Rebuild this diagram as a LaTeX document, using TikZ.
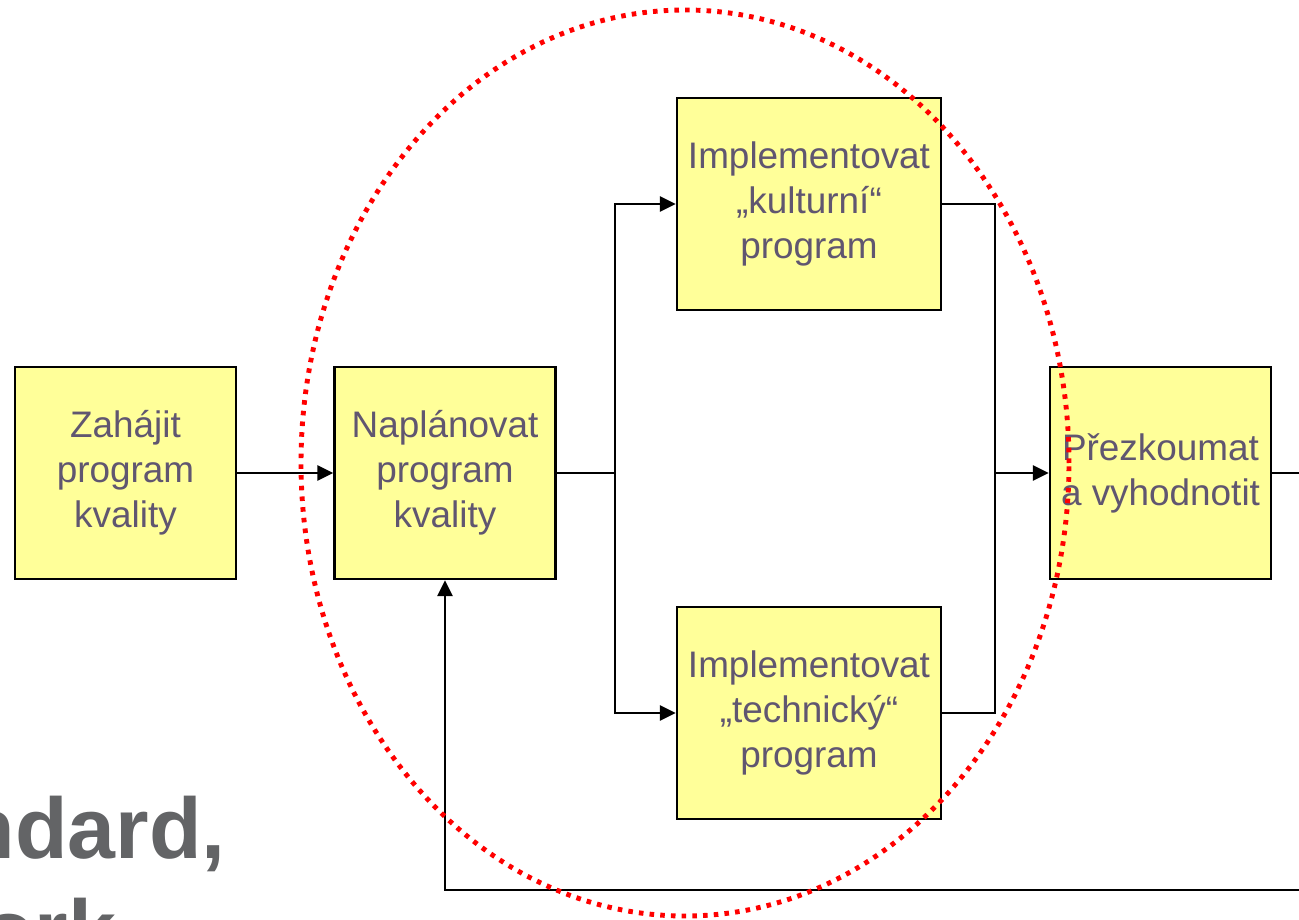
\documentclass[tikz,border=0pt]{standalone}
\usepackage{fontspec}
\setmainfont{Liberation Sans}
\usetikzlibrary{arrows.meta}
\definecolor{boxfill}{RGB}{255,255,153}
\definecolor{boxtext}{RGB}{96,86,112}
\definecolor{headgray}{RGB}{99,100,102}
\begin{document}
\begin{tikzpicture}[
    box/.style={draw, line width=1.5pt, fill=boxfill, text=boxtext, align=center,
        minimum width=4.42cm, minimum height=4.24cm, inner sep=0pt,
        font=\fontsize{21}{25.6}\selectfont},
    wide/.style={minimum width=5.28cm},
    >={Triangle[length=9pt,width=8.5pt]},
    line width=1.5pt
]
\useasboundingbox (0,0) rectangle (25.98,18.38);
\clip (0,0) rectangle (25.98,18.38);

\node[box] (zah) at (2.51,8.92) {Zahájit\\program\\kvality};
\node[box] (nap) at (8.9,8.92) {Naplánovat\\program\\kvality};
\node[box, wide] (kul) at (16.18,14.3) {Implementovat\\„kulturní“\\program};
\node[box, wide] (tech) at (16.18,4.12) {Implementovat\\„technický“\\program};
\node[box] (prez) at (23.21,8.92) {Přezkoumat\\a vyhodnotit};

\coordinate (split) at (12.3,8.92);
\coordinate (join) at (19.9,8.92);
\coordinate (out) at (26.3,0.58);

\draw[->] (zah) -- (nap);
\draw (nap.east) -- (split);
\draw[->] (split) |- (kul.west);
\draw[->] (split) |- (tech.west);
\draw (kul.east) -| (join);
\draw (tech.east) -| (join);
\draw[->] (join) -- (prez.west);
\draw[->] (prez.east) -| (out) -- (nap.south |- out) -- (nap.south);

\node[anchor=base east, text=headgray, font=\fontsize{49}{59}\selectfont\bfseries] (stand) at (4.66,1.22) {ndard,};
\node[anchor=base west, text=headgray, font=\fontsize{49}{59}\selectfont\bfseries] (frame) at (-0.5,-0.82) {ork};

\draw[red, line width=2.8pt, dash pattern=on 2.6pt off 3.5pt] (13.7,9.12) ellipse (7.68 and 9.06);
\end{tikzpicture}
\end{document}
